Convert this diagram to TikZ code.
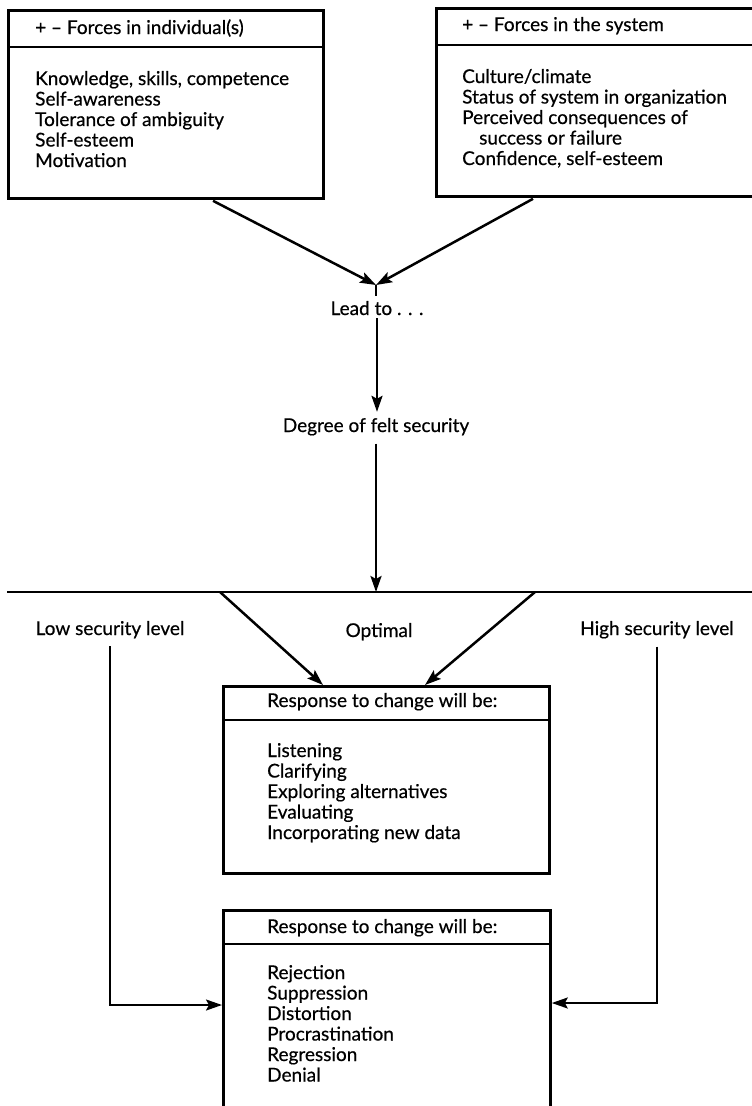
\documentclass[tikz,border=0pt]{standalone}
\usepackage{fontspec}
\setmainfont{Lato}[FakeBold=0.5]
\usetikzlibrary{arrows.meta,calc}
\newcommand{\diagfont}{\fontsize{19pt}{20.5pt}\selectfont}
\newcommand{\linesblock}[1]{\parbox[t]{300pt}{\raggedright\diagfont #1}}
\begin{document}
\begin{tikzpicture}[x=1pt,y=-1pt,
  box/.style={draw, line width=2.8pt, inner sep=0, anchor=north west},
  rule/.style={line width=2.6pt},
  hline/.style={line width=2.4pt},
  tip/.style={-{Stealth[length=16pt,width=11pt,inset=3pt]}},
  conn/.style={line width=2.5pt, tip},
  sideconn/.style={line width=2pt, tip},
  lbl/.style={font=\diagfont, inner sep=0},
]
\useasboundingbox (0,0) rectangle (752,1106);
\clip (0,0) rectangle (752,1106);

% upper boxes: forces in the individual and in the system
\node[box, minimum width=315pt, minimum height=188pt] (indiv) at (7,9) {};
\draw[rule] ($(indiv.north west)+(0,38)$) -- ($(indiv.north east)+(0,38)$);
\node[lbl, anchor=base west] (indivhead) at (35,34) {+ – Forces in individual(s)};
\node[lbl, anchor=base west] (indivbody) at (35,85) {\linesblock{%
  Knowledge, skills, competence\\
  Self-awareness\\
  Tolerance of ambiguity\\
  Self-esteem\\
  Motivation}};

\node[box, minimum width=330pt, minimum height=188pt] (system) at (435,7) {};
\draw[rule] ($(system.north west)+(0,38)$) -- ($(system.north east)+(0,38)$);
\node[lbl, anchor=base west] (systemhead) at (462,31) {+ – Forces in the system};
\node[lbl, anchor=base west] (systembody) at (462,83) {\linesblock{%
  Culture/climate\\
  Status of system in organization\\
  Perceived consequences of\\
  \hspace*{17pt}success or failure\\
  Confidence, self-esteem}};

% convergence to "Lead to . . ."
\coordinate (join) at (376,285);
\draw[conn] ($(indiv.south west)+(206,1)$) -- (join);
\draw[conn] ($(system.south west)+(98,1)$) -- (join);
\draw[hline] (join) -- ++(0,11);

\node[lbl, anchor=base] (lead) at (377,315) {Lead to . . .};
\node[lbl, anchor=base] (degree) at (376,432) {Degree of felt security};
\draw[conn] ([yshift=-3pt]lead.south) -- ([yshift=6pt]lead.south |- degree.north);

% security scale line
\coordinate (scaleL) at (7,592);
\coordinate (scaleR) at (760,592);
\draw[hline] (scaleL) -- (scaleR);
\draw[conn] ([yshift=-8pt]degree.south) -- (degree.south |- scaleL);

\node[lbl, anchor=base] (low) at (110,635) {Low security level};
\node[lbl, anchor=base] (optimal) at (379,637) {Optimal};
\node[lbl, anchor=base] (high) at (657,635) {High security level};

% optimal response box
\node[box, minimum width=326pt, minimum height=187pt] (resp1) at (222,685) {};
\draw[rule] ($(resp1.north west)+(0,35)$) -- ($(resp1.north east)+(0,35)$);
\node[lbl, anchor=base west] (resp1head) at (267,707) {Response to change will be:};
\node[lbl, anchor=base west] (resp1body) at (267,757) {\linesblock{%
  Listening\\
  Clarifying\\
  Exploring alternatives\\
  Evaluating\\
  Incorporating new data}};

\coordinate (optL) at (220,592);
\coordinate (optR) at (535,592);
\draw[conn] (optL) -- ($(resp1.north west)+(101,0)$);
\draw[conn] (optR) -- ($(resp1.north west)+(203,0)$);

% response box for low and high security
\node[box, minimum width=327pt, minimum height=230pt] (resp2) at (222,909) {};
\draw[rule] ($(resp2.north west)+(0,35)$) -- ($(resp2.north east)+(0,35)$);
\node[lbl, anchor=base west] (resp2head) at (267,933) {Response to change will be:};
\node[lbl, anchor=base west] (resp2body) at (267,979) {\linesblock{%
  Rejection\\
  Suppression\\
  Distortion\\
  Procrastination\\
  Regression\\
  Denial}};

\coordinate (lowturn) at (110,1005);
\coordinate (highturn) at (658,1003);
\draw[sideconn] ([yshift=-8pt]low.south) |- (resp2.west |- lowturn);
\draw[sideconn] ([yshift=-8pt]high.south) |- (resp2.east |- highturn);
\end{tikzpicture}
\end{document}
